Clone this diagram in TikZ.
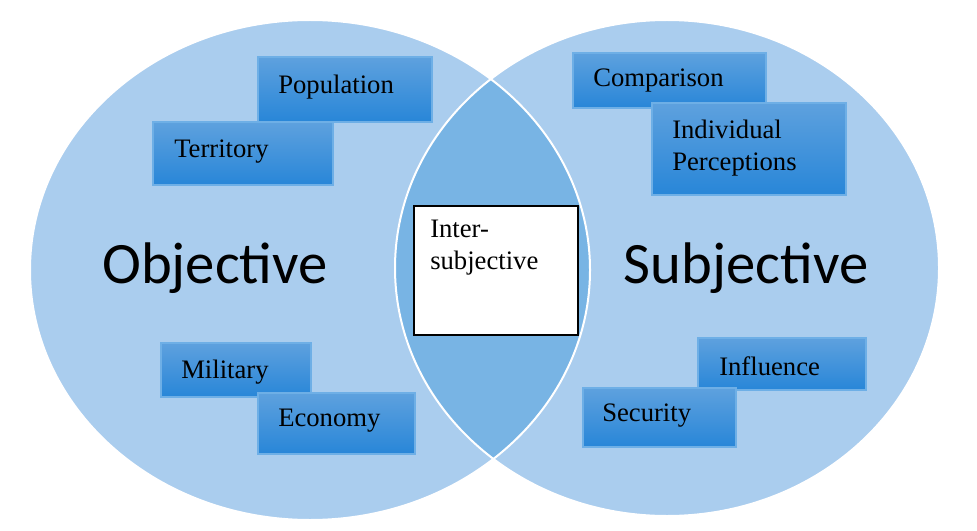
\documentclass[tikz,border=0pt]{standalone}
\usepackage{fontspec}
\setmainfont{Liberation Serif}
\newfontfamily\calfont{Carlito}
\begin{document}
\begin{tikzpicture}[x=0.75pt,y=-0.75pt,
  bx/.style={draw={rgb,255:red,110;green,175;blue,230}, top color={rgb,255:red,94;green,161;blue,222}, bottom color={rgb,255:red,40;green,134;blue,216}, line width=0.8pt},
  bt/.style={anchor=west,font=\fontsize{20}{24}\selectfont,inner sep=0pt,align=left}]
\definecolor{cfill}{RGB}{170,205,238}
\definecolor{cover}{RGB}{120,180,228}
\useasboundingbox (0,0) rectangle (977,531);
\fill[white] (0,0) rectangle (977,531);
\fill[cfill] (310,270) ellipse [x radius=280,y radius=250];
\fill[cfill] (667,268) ellipse [x radius=272,y radius=248];
\begin{scope}
\clip (310,270) ellipse [x radius=280,y radius=250];
\fill[cover] (667,268) ellipse [x radius=272,y radius=248];
\end{scope}
\draw[white,line width=1.5pt] (310,270) ellipse [x radius=280,y radius=250];
\draw[white,line width=1.5pt] (667,268) ellipse [x radius=272,y radius=248];
% left boxes
\path[bx] (258,57) rectangle (432,122);
\node[bt] (pop) at (278,87) {Population};
\path[bx] (153,122) rectangle (333,185);
\node[bt] (ter) at (174,152) {Territory};
\path[bx] (161,343) rectangle (311,397);
\node[bt] (mil) at (181,372) {Military};
\path[bx] (258,393) rectangle (415,454);
\node[bt] (eco) at (278,421) {Economy};
% right boxes
\path[bx] (573,53) rectangle (766,108);
\node[bt] (com) at (593,81) {Comparison};
\path[bx] (652,103) rectangle (846,195);
\node[bt] (ind) at (672,148) {Individual\\Perceptions};
\path[bx] (698,338) rectangle (866,390);
\node[bt] (inf) at (719,366) {Influence};
\path[bx] (583,388) rectangle (736,447);
\node[bt] (sec) at (602,416) {Security};
% inter
\draw[fill=white,line width=0.8pt] (414,206) rectangle (578,335);
\node[bt,anchor=north west] (int) at (430,220) {Inter-\\subjective};
\node[font=\calfont\fontsize{44}{50}\selectfont] (obj) at (215,268) {Objective};
\node[font=\calfont\fontsize{44}{50}\selectfont] (sub) at (746,268) {Subjective};
\end{tikzpicture}
\end{document}
